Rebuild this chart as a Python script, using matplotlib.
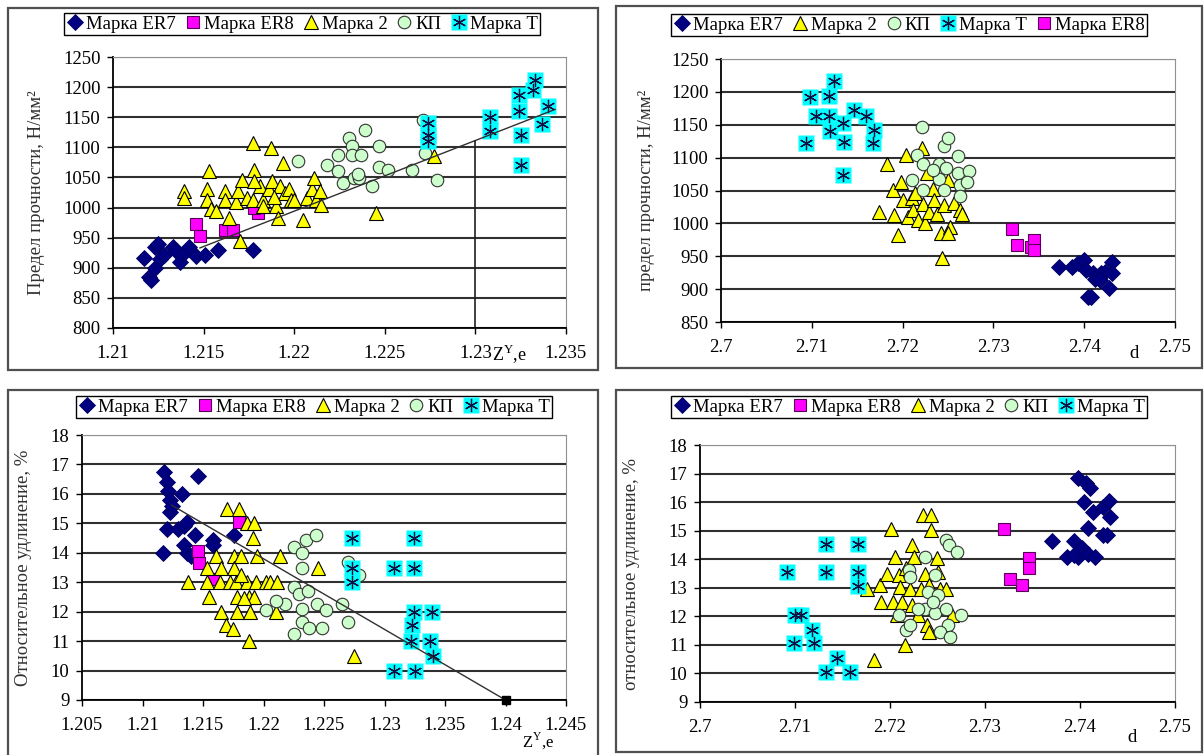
import matplotlib
matplotlib.use('Agg')
import matplotlib.pyplot as plt
from matplotlib.patches import Rectangle
from matplotlib.lines import Line2D

plt.rcParams['font.family'] = ['Liberation Serif', 'DejaVu Serif']
plt.rcParams['mathtext.fontset'] = 'custom'
plt.rcParams['mathtext.rm'] = 'Liberation Serif'

W, H = 1204, 755
FS = 13.5

# ---------- panel 1: предел прочности vs Z ----------
p1_er7_x = [1.2117, 1.2120, 1.2121, 1.2123, 1.2123, 1.2125, 1.2126, 1.2128, 1.2133, 1.2135,
            1.2137, 1.2139, 1.2142, 1.2146, 1.2151, 1.2158, 1.2177]
p1_er7_y = [917, 885, 880, 935, 900, 940, 915, 922, 935, 928, 910, 925, 935, 920, 922, 930, 930]
p1_er8_x = [1.2146, 1.2148, 1.2162, 1.2166, 1.2180, 1.2178]
p1_er8_y = [972, 953, 963, 963, 991, 1000]
p1_m2_x = [1.2139, 1.2139, 1.2153, 1.2152, 1.2152, 1.2154, 1.2157, 1.2162, 1.2162, 1.2164,
           1.2168, 1.2169, 1.2171, 1.2170, 1.2174, 1.2177, 1.2178, 1.2177, 1.2181, 1.2183,
           1.2187, 1.2186, 1.2188, 1.2190, 1.2191, 1.2192, 1.2194, 1.2195, 1.2197, 1.2198,
           1.2200, 1.2205, 1.2207, 1.2210, 1.2211, 1.2212, 1.2214, 1.2215, 1.2245, 1.2277,
           1.2183, 1.2189, 1.2178]
p1_m2_y = [1027, 1016, 1060, 1030, 1013, 997, 994, 1027, 1013, 983,
           1010, 1027, 1046, 944, 1016, 1107, 1063, 1013, 1035, 1013,
           1099, 1030, 1044, 1002, 983, 1035, 1074, 1024, 1030, 1013,
           1013, 980, 1016, 1030, 1049, 1013, 1027, 1005, 991, 1085,
           1002, 1018, 1044]
p1_kp_x = [1.2202, 1.2218, 1.2224, 1.2224, 1.2227, 1.2230, 1.2232, 1.2232, 1.2233, 1.2236,
           1.2237, 1.2239, 1.2243, 1.2247, 1.2247, 1.2252, 1.2265, 1.2271, 1.2272, 1.2279, 1.2235]
p1_kp_y = [1077, 1071, 1088, 1060, 1041, 1115, 1102, 1088, 1049, 1049,
           1088, 1129, 1035, 1102, 1068, 1063, 1063, 1146, 1091, 1046, 1055]
p1_t_x = [1.2274, 1.2274, 1.2274, 1.2308, 1.2308, 1.2324, 1.2324, 1.2325, 1.2325, 1.2332,
          1.2333, 1.2337, 1.2340]
p1_t_y = [1140, 1121, 1110, 1151, 1127, 1187, 1160, 1121, 1071, 1196, 1212, 1138, 1168]
p1_trend_x = [1.2148, 1.2344]
p1_trend_y = [933, 1163]
p1_vline_x = [1.2300, 1.2300]
p1_vline_y = [800, 1110]

# ---------- panel 2: предел прочности vs d ----------
p2_er7_x = [2.7372, 2.7387, 2.7393, 2.7400, 2.7402, 2.7404, 2.7408, 2.7410, 2.7412, 2.7419,
            2.7423, 2.7427, 2.7431, 2.7431, 2.7417]
p2_er7_y = [934, 934, 939, 944, 929, 888, 888, 924, 916, 924, 926, 901, 941, 924, 914]
p2_m2_x = [2.7174, 2.7183, 2.7189, 2.7191, 2.7195, 2.7198, 2.7204, 2.7200, 2.7206, 2.7210,
           2.7212, 2.7217, 2.7221, 2.7223, 2.7225, 2.7227, 2.7229, 2.7233, 2.7235, 2.7238,
           2.7242, 2.7243, 2.7246, 2.7250, 2.7252, 2.7257, 2.7263, 2.7265, 2.7250, 2.7214]
p2_m2_y = [1018, 1091, 1051, 1013, 982, 1063, 1104, 1036, 1010, 1038,
           1020, 1005, 1114, 1030, 1000, 1076, 1018, 1053, 1036, 1015,
           985, 947, 1028, 1066, 995, 1031, 1020, 1015, 985, 1046]
p2_kp_x = [2.7221, 2.7210, 2.7216, 2.7223, 2.7223, 2.7240, 2.7240, 2.7246, 2.7250, 2.7261,
           2.7261, 2.7263, 2.7263, 2.7273, 2.7271, 2.7246, 2.7233, 2.7248]
p2_kp_y = [1147, 1066, 1104, 1091, 1051, 1091, 1068, 1117, 1130, 1102,
           1076, 1058, 1041, 1079, 1063, 1051, 1081, 1084]
p2_t_x = [2.7094, 2.7098, 2.7105, 2.7119, 2.7124, 2.7119, 2.7120, 2.7134, 2.7136, 2.7134,
          2.7146, 2.7160, 2.7168, 2.7167]
p2_t_y = [1122, 1192, 1163, 1193, 1216, 1163, 1140, 1152, 1124, 1073, 1173, 1163, 1142, 1122]
p2_er8_x = [2.7320, 2.7326, 2.7341, 2.7345, 2.7345]
p2_er8_y = [992, 967, 964, 975, 959]

# ---------- panel 3: относительное удлинение vs Z ----------
p3_er7_x = [1.2118, 1.2120, 1.2121, 1.2123, 1.2123, 1.2124, 1.2133, 1.2146, 1.2120, 1.2129,
            1.2134, 1.2137, 1.2143, 1.2134, 1.2137, 1.2140, 1.2117, 1.2158, 1.2158, 1.2176]
p3_er7_y = [16.75, 16.4, 16.1, 15.8, 15.4, 15.6, 16.0, 16.6, 14.8, 14.8,
            14.9, 15.05, 14.6, 14.25, 14.0, 13.9, 14.0, 14.45, 14.25, 14.6]
p3_er8_x = [1.2146, 1.2147, 1.2180, 1.2158]
p3_er8_y = [14.05, 13.65, 15.05, 13.1]
p3_m2_x = [1.2138, 1.2153, 1.2153, 1.2155, 1.2161, 1.2165, 1.2164, 1.2165, 1.2169, 1.2170,
           1.2172, 1.2175, 1.2176, 1.2176, 1.2177, 1.2178, 1.2178, 1.2180, 1.2181, 1.2186,
           1.2186, 1.2188, 1.2189, 1.2188, 1.2191, 1.2192, 1.2192, 1.2194, 1.2195, 1.2202,
           1.2205, 1.2210, 1.2211, 1.2214, 1.2245, 1.2275, 1.2184, 1.2181]
p3_m2_y = [13.0, 13.5, 13.0, 12.5, 13.9, 13.5, 13.0, 12.0, 11.55, 15.5,
           13.0, 11.4, 13.9, 13.5, 13.0, 12.5, 12.0, 15.5, 13.9, 13.0,
           15.0, 12.5, 12.0, 11.0, 14.5, 15.0, 12.5, 13.0, 13.9, 13.0,
           13.0, 12.0, 13.0, 13.9, 13.5, 10.5, 12.45, 13.25]
p3_kp_x = [1.2225, 1.2232, 1.2235, 1.2243, 1.2232, 1.2225, 1.2229, 1.2237, 1.2218, 1.2232,
           1.2202, 1.2244, 1.2252, 1.2232, 1.2238, 1.2248, 1.2225, 1.2265, 1.2270, 1.2270,
           1.2279, 1.2210]
p3_kp_y = [14.2, 14.0, 14.45, 14.6, 13.5, 12.85, 12.6, 12.7, 12.25, 12.1,
           12.05, 12.25, 12.05, 11.65, 11.45, 11.45, 11.25, 12.25, 11.65, 13.7,
           13.25, 12.35]
p3_t_x = [1.2273, 1.2273, 1.2273, 1.2308, 1.2324, 1.2324, 1.2324, 1.2339, 1.2323, 1.2322,
          1.2338, 1.2340, 1.2308, 1.2325]
p3_t_y = [14.5, 13.5, 13.0, 13.5, 14.5, 13.5, 12.0, 12.0, 11.55, 11.0, 11.0, 10.5, 10.0, 10.0]
p3_trend_x = [1.2124, 1.2400]
p3_trend_y = [15.62, 9.0]

# ---------- panel 4: относительное удлинение vs d ----------
p4_er7_x = [2.7371, 2.7386, 2.7394, 2.7398, 2.7404, 2.7406, 2.7408, 2.7410, 2.7398, 2.7402,
            2.7408, 2.7414, 2.7416, 2.7424, 2.7424, 2.7430, 2.7432, 2.7428, 2.7394]
p4_er7_y = [14.65, 14.08, 14.65, 16.83, 16.01, 16.66, 15.08, 16.48, 14.08, 14.38,
            14.2, 15.66, 14.08, 15.84, 14.84, 16.04, 15.49, 14.84, 14.14]
p4_er8_x = [2.7320, 2.7326, 2.7339, 2.7346, 2.7346]
p4_er8_y = [15.05, 13.3, 13.09, 14.05, 13.68]
p4_m2_x = [2.7176, 2.7183, 2.7201, 2.7189, 2.7191, 2.7197, 2.7205, 2.7203, 2.7207, 2.7209,
           2.7211, 2.7213, 2.7216, 2.7221, 2.7223, 2.7223, 2.7225, 2.7229, 2.7233, 2.7235,
           2.7237, 2.7239, 2.7241, 2.7243, 2.7243, 2.7249, 2.7251, 2.7253, 2.7259, 2.7265,
           2.7241, 2.7217]
p4_m2_y = [12.97, 10.48, 15.05, 13.09, 12.5, 13.5, 14.08, 12.5, 12.04, 13.44,
           13.03, 12.5, 10.99, 12.97, 14.5, 12.4, 14.08, 12.04, 12.97, 15.55,
           13.5, 11.69, 11.45, 15.55, 15.02, 14.03, 13.56, 12.97, 12.97, 12.04,
           13.09, 13.68]
p4_kp_x = [2.7220, 2.7221, 2.7237, 2.7240, 2.7251, 2.7259, 2.7262, 2.7271, 2.7209, 2.7217,
           2.7221, 2.7237, 2.7247, 2.7259, 2.7261, 2.7253, 2.7275, 2.7263, 2.7247, 2.7245, 2.7229]
p4_kp_y = [13.62, 13.38, 14.08, 12.86, 12.74, 14.67, 14.49, 14.26, 12.04, 11.51,
           11.69, 12.27, 12.1, 12.27, 11.69, 11.45, 12.04, 11.28, 13.44, 12.5, 12.27]
p4_t_x = [2.7092, 2.7133, 2.7133, 2.7166, 2.7166, 2.7166, 2.7100, 2.7106, 2.7118, 2.7099,
          2.7120, 2.7144, 2.7133, 2.7158]
p4_t_y = [13.54, 14.53, 13.54, 14.53, 13.54, 13.07, 12.04, 12.04, 11.51, 11.05,
          11.05, 10.54, 10.05, 10.05]

LABELS = {'er7': 'Марка ER7', 'er8': 'Марка ER8', 'm2': 'Марка 2', 'kp': 'КП', 't': 'Марка Т'}
STYLES = {
    'er7': dict(marker='D', color='#000080', mec='#000060', ms=7.8, mew=0.6),
    'er8': dict(marker='s', color='#FF00FF', mec='#550055', ms=8.5, mew=0.8),
    'm2': dict(marker='^', color='#FFFF00', mec='black', ms=10.5, mew=0.8),
    'kp': dict(marker='o', color='#CCFFCC', mec='#333333', ms=9, mew=0.8),
}
T_BACK = dict(marker='s', color='#00FFFF', mec='none', ms=11)
T_STAR = dict(marker=(6, 2, 0), color='#101040', mec='#101040', ms=9.5, mew=0.9)


def draw_series(ax, key, xs, ys):
    if key == 't':
        ax.plot(xs, ys, ls='none', clip_on=False, **T_BACK)
        ax.plot(xs, ys, ls='none', clip_on=False, **T_STAR)
    else:
        ax.plot(xs, ys, ls='none', clip_on=False, **STYLES[key])


def legend_handle(key):
    if key == 't':
        return (Line2D([], [], ls='none', **T_BACK), Line2D([], [], ls='none', **T_STAR))
    return Line2D([], [], ls='none', **STYLES[key])


def panel(fig, axes_px, frame_px, xlim, xticks, ylim, yticks, series, legend_order,
          legend_center, ylabel, ylabel_x):
    l, r, t, b = axes_px
    ax = fig.add_axes([l / W, 1 - b / H, (r - l) / W, (b - t) / H])
    fx1, fy1, fx2, fy2 = frame_px
    fig.patches.append(Rectangle((fx1 / W, 1 - fy2 / H), (fx2 - fx1) / W, (fy2 - fy1) / H,
                                 transform=fig.transFigure, fill=False, ec='#505050', lw=1.6))
    for key, xs, ys in series:
        draw_series(ax, key, xs, ys)
    ax.set_xlim(*xlim)
    ax.set_ylim(*ylim)
    ax.set_xticks(xticks)
    ax.set_xticklabels([f'{v:g}' for v in xticks])
    ax.set_yticks(yticks)
    ax.set_yticklabels([f'{v:g}' for v in yticks])
    ax.tick_params(labelsize=FS, direction='out', length=4, width=1)
    ax.tick_params(axis='x', pad=8)
    ax.tick_params(axis='y', pad=5)
    ax.grid(axis='y', color='#303030', lw=1.5)
    ax.set_axisbelow(True)
    for s in ('top', 'right'):
        ax.spines[s].set_color('#909090')
    for s in ('left', 'bottom'):
        ax.spines[s].set_color('black')
        ax.spines[s].set_linewidth(1.3)
    ax.set_ylabel(ylabel, fontsize=FS, color='#303030')
    ax.yaxis.set_label_coords(ylabel_x, 0.5)
    cx, cy = legend_center
    ax.legend([legend_handle(k) for k in legend_order], [LABELS[k] for k in legend_order],
              loc='center', bbox_to_anchor=(cx / W, 1 - cy / H), bbox_transform=fig.transFigure,
              ncol=5, frameon=True, fancybox=False, edgecolor='black', framealpha=1,
              fontsize=FS, borderpad=0.15, handlelength=0.9, handletextpad=0.15,
              columnspacing=0.45, borderaxespad=0)
    ax.get_legend().get_frame().set_linewidth(1.0)
    return ax


fig = plt.figure(figsize=(W / 100, H / 100), dpi=100)

ax1 = panel(fig, (113, 566, 57, 328), (8, 8, 598, 370),
            (1.21, 1.235), [1.21, 1.215, 1.22, 1.225, 1.23, 1.235],
            (800, 1250), list(range(800, 1251, 50)),
            [('er7', p1_er7_x, p1_er7_y), ('er8', p1_er8_x, p1_er8_y), ('m2', p1_m2_x, p1_m2_y),
             ('kp', p1_kp_x, p1_kp_y), ('t', p1_t_x, p1_t_y)],
            ['er7', 'er8', 'm2', 'kp', 't'], (302, 24),
            'Предел прочности, Н/мм²', -0.150)
ax1.plot(p1_trend_x, p1_trend_y, color='#303030', lw=1)
ax1.plot(p1_vline_x, p1_vline_y, color='#202020', lw=1.2)
ax1.text(1.2319, -0.095, 'Z$^{\\mathrm{Y}}$,e', transform=ax1.get_xaxis_transform(),
         ha='center', va='center', fontsize=FS - 0.5)

ax2 = panel(fig, (721, 1175, 59, 322), (616, 6, 1202, 368),
            (2.7, 2.75), [2.7, 2.71, 2.72, 2.73, 2.74, 2.75],
            (850, 1250), list(range(850, 1251, 50)),
            [('er7', p2_er7_x, p2_er7_y), ('m2', p2_m2_x, p2_m2_y), ('kp', p2_kp_x, p2_kp_y),
             ('t', p2_t_x, p2_t_y), ('er8', p2_er8_x, p2_er8_y)],
            ['er7', 'm2', 'kp', 't', 'er8'], (909, 25),
            'предел прочности, Н/мм²', -0.145)
ax2.text(2.7455, -0.12, 'd', transform=ax2.get_xaxis_transform(),
         ha='center', va='center', fontsize=FS)

ax3 = panel(fig, (82, 566, 435, 700), (8, 390, 598, 758),
            (1.205, 1.245), [1.205, 1.21, 1.215, 1.22, 1.225, 1.23, 1.235, 1.24, 1.245],
            (9, 18), list(range(9, 19)),
            [('er7', p3_er7_x, p3_er7_y), ('er8', p3_er8_x, p3_er8_y), ('m2', p3_m2_x, p3_m2_y),
             ('kp', p3_kp_x, p3_kp_y), ('t', p3_t_x, p3_t_y)],
            ['er7', 'er8', 'm2', 'kp', 't'], (314, 407),
            'Относительное удлинение, %', -0.103)
ax3.plot(p3_trend_x, p3_trend_y, color='#303030', lw=1)
ax3.plot(p3_trend_x[-1:], p3_trend_y[-1:], ls='none', marker='s', color='black', ms=6,
         clip_on=False)
ax3.text(1.2427, -0.155, 'Z$^{\\mathrm{Y}}$,e', transform=ax3.get_xaxis_transform(),
         ha='center', va='center', fontsize=FS - 1.5)

ax4 = panel(fig, (700, 1175, 445, 702), (616, 390, 1202, 752),
            (2.7, 2.75), [2.7, 2.71, 2.72, 2.73, 2.74, 2.75],
            (9, 18), list(range(9, 19)),
            [('er7', p4_er7_x, p4_er7_y), ('er8', p4_er8_x, p4_er8_y), ('m2', p4_m2_x, p4_m2_y),
             ('kp', p4_kp_x, p4_kp_y), ('t', p4_t_x, p4_t_y)],
            ['er7', 'er8', 'm2', 'kp', 't'], (909, 407),
            'относительное удлинение, %', -0.126)
ax4.text(2.7455, -0.14, 'd', transform=ax4.get_xaxis_transform(),
         ha='center', va='center', fontsize=FS)

fig.savefig('out.png', dpi=100)
